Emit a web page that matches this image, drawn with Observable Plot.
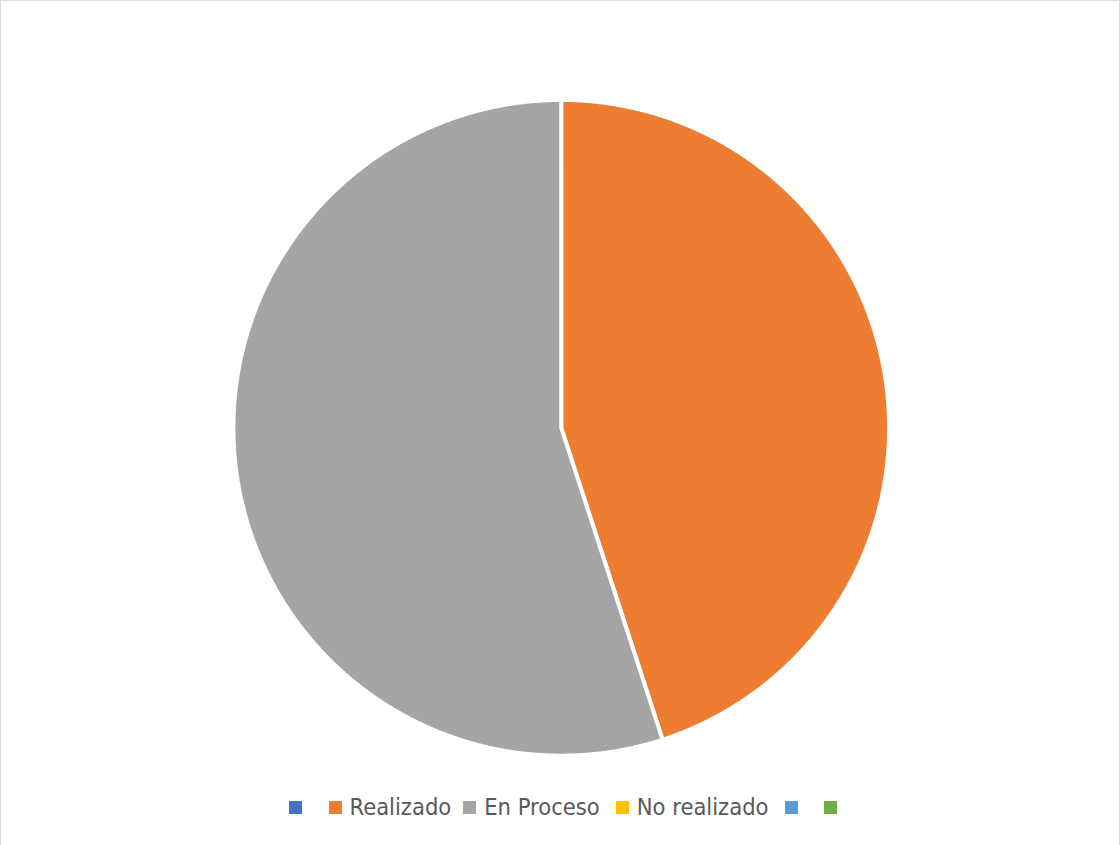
<!DOCTYPE html>
<html>
<head>
<meta charset="utf-8">
<script src="https://cdn.jsdelivr.net/npm/d3@7"></script>
<script src="https://cdn.jsdelivr.net/npm/@observablehq/plot@0.6"></script>
<style>
  html, body { margin: 0; padding: 0; background: #fff; }
  #frame { position: relative; width: 1120px; height: 845px; box-sizing: border-box;
           border: 1.5px solid #d9d9d9; border-bottom: none; overflow: hidden; background: #fff; }
  #chart { position: absolute; left: -1.5px; top: -1.5px; }
  #legend { position: absolute; left: 287.5px; top: 792px; display: flex; align-items: center;
            font-family: "DejaVu Sans Condensed", "DejaVu Sans", sans-serif; font-size: 23.5px; color: #595959; }
  .item { display: flex; align-items: center; margin-right: 13px; }
  .sw { width: 13px; height: 13px; }
  .lab { padding-left: 8px; white-space: nowrap; line-height: 28px; }
  .lab.empty { width: 6px; padding-left: 8px; }
</style>
</head>
<body>
<div id="frame">
  <div id="chart"></div>
  <div id="legend"></div>
</div>
<script>
// Data
const keys = ["s1", "s2", "s3", "s4", "s5", "s6"];
const labels = ["", "Realizado", "En Proceso", "No realizado", "", ""];
const values = [0, 45, 55, 0, 0, 0];
const colors = ["#4472C4", "#ED7D31", "#A5A5A5", "#FFC000", "#5B9BD5", "#70AD47"];
const gaps = [13, 12, 16, 16, 12, 0];

const R = 1;
const arcs = d3.pie().sort(null).value(d => d)(values);
const features = [];
arcs.forEach((a, i) => {
  if (values[i] <= 0) return;
  const pts = [[0, 0]];
  const n = Math.max(2, Math.ceil((a.endAngle - a.startAngle) / 0.004));
  for (let k = 0; k <= n; k++) {
    const t = a.startAngle + (a.endAngle - a.startAngle) * k / n;
    pts.push([R * Math.sin(t), -R * Math.cos(t)]);
  }
  pts.push([0, 0]);
  features.push({type: "Feature", properties: {key: keys[i]}, geometry: {type: "Polygon", coordinates: [pts]}});
});

const plot = Plot.plot({
  width: 1120,
  height: 780,
  marginLeft: 233,
  marginRight: 231,
  marginTop: 99.5,
  marginBottom: 24.5,
  projection: {type: "identity", domain: {type: "MultiPoint", coordinates: [[-R, -R], [R, R]]}},
  color: {type: "ordinal", domain: keys, range: colors},
  marks: [
    Plot.geo(features, {fill: d => d.properties.key, stroke: "white", strokeWidth: 4, strokeLinejoin: "miter"})
  ]
});
document.getElementById("chart").appendChild(plot);

const legend = document.getElementById("legend");
keys.forEach((k, i) => {
  const it = document.createElement("div");
  it.className = "item";
  it.style.marginRight = gaps[i] + "px";
  const sw = document.createElement("div");
  sw.className = "sw";
  sw.style.background = colors[i];
  const lab = document.createElement("span");
  lab.className = "lab" + (labels[i] ? "" : " empty");
  lab.textContent = labels[i];
  it.appendChild(sw);
  it.appendChild(lab);
  legend.appendChild(it);
});
</script>
</body>
</html>
